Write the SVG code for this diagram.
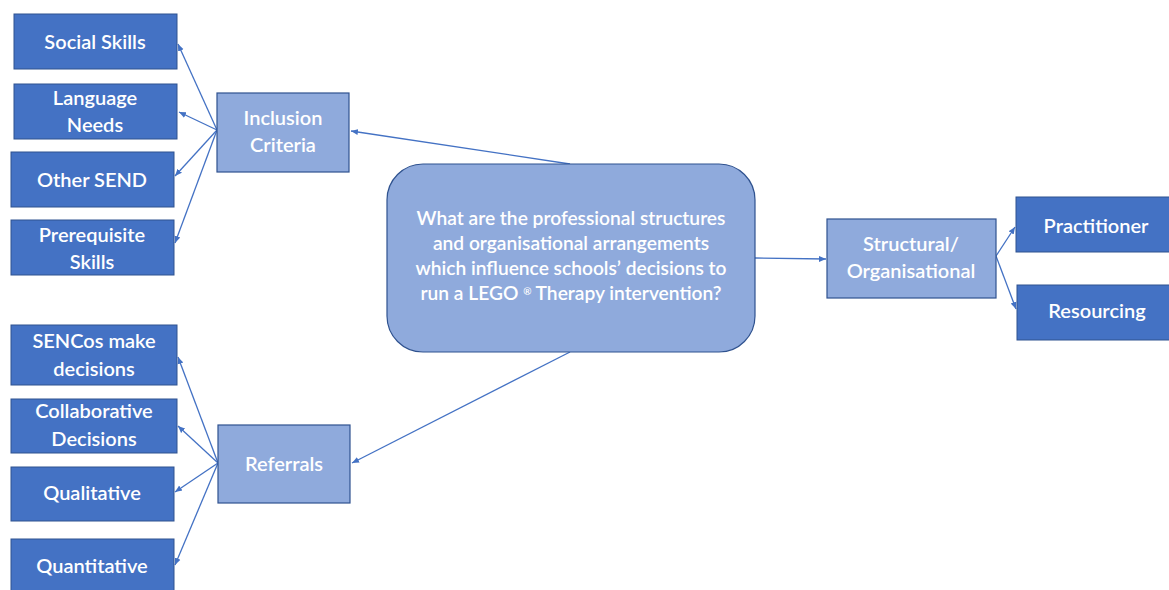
<svg xmlns="http://www.w3.org/2000/svg" width="1169" height="590" viewBox="0 0 1169 590">
  <style>
    .dark { fill: #4472C4; stroke: #2F528F; stroke-width: 1; }
    .light { fill: #8FAADC; stroke: #2F528F; stroke-width: 1.2; }
    .lbl { font-family: Lato, "Open Sans", "Liberation Sans", sans-serif; font-size: 20px; font-weight: 600; fill: #FFFFFF; text-anchor: middle; }
    .q { font-family: Lato, "Open Sans", "Liberation Sans", sans-serif; font-size: 19.2px; font-weight: 600; fill: #FFFFFF; text-anchor: middle; }
    .conn { stroke: #4472C4; stroke-width: 1.3; fill: none; marker-end: url(#arrow); }
  </style>
  <defs>
    <marker id="arrow" markerWidth="8" markerHeight="8" refX="7" refY="4" orient="auto" markerUnits="userSpaceOnUse">
      <path d="M0,1 L7,4 L0,7 Z" fill="#4472C4"/>
    </marker>
  </defs>
  <rect width="1169" height="590" fill="#FFFFFF"/>

  <g id="connectors">
    <line class="conn" x1="570" y1="164" x2="351" y2="131"/>
    <line class="conn" x1="570" y1="352" x2="352" y2="463"/>
    <line class="conn" x1="755" y1="258" x2="826" y2="259"/>
    <line class="conn" x1="996" y1="256" x2="1015" y2="227"/>
    <line class="conn" x1="996" y1="256" x2="1016" y2="309"/>
    <line class="conn" x1="217" y1="130" x2="178" y2="44"/>
    <line class="conn" x1="217" y1="130" x2="179" y2="112"/>
    <line class="conn" x1="217" y1="130" x2="175" y2="176"/>
    <line class="conn" x1="217" y1="130" x2="175" y2="243"/>
    <line class="conn" x1="218" y1="463" x2="178" y2="357"/>
    <line class="conn" x1="218" y1="463" x2="178" y2="426"/>
    <line class="conn" x1="218" y1="463" x2="175" y2="492"/>
    <line class="conn" x1="218" y1="463" x2="175" y2="565"/>
  </g>

  <g id="question">
    <rect class="light" x="387" y="164" width="368" height="188" rx="36" ry="36"/>
    <text class="q" x="571" y="225">What are the professional structures</text>
    <text class="q" x="571" y="250">and organisational arrangements</text>
    <text class="q" x="571" y="275">which influence schools’ decisions to</text>
    <text class="q" x="571" y="300">run a LEGO <tspan font-size="10" dy="-5">®</tspan><tspan dy="5"> Therapy intervention?</tspan></text>
  </g>

  <g id="inclusion-criteria">
    <rect class="light" x="217" y="93" width="132" height="79"/>
    <text class="lbl" x="283" y="125">Inclusion</text>
    <text class="lbl" x="283" y="152">Criteria</text>
  </g>
  <g id="social-skills">
    <rect class="dark" x="14" y="14" width="163" height="55"/>
    <text class="lbl" x="95" y="49">Social Skills</text>
  </g>
  <g id="language-needs">
    <rect class="dark" x="14" y="84" width="163" height="55"/>
    <text class="lbl" x="95" y="105">Language</text>
    <text class="lbl" x="95" y="132">Needs</text>
  </g>
  <g id="other-send">
    <rect class="dark" x="11" y="152" width="163" height="55"/>
    <text class="lbl" x="92" y="187">Other SEND</text>
  </g>
  <g id="prerequisite-skills">
    <rect class="dark" x="11" y="220" width="163" height="55"/>
    <text class="lbl" x="92" y="242">Prerequisite</text>
    <text class="lbl" x="92" y="269">Skills</text>
  </g>

  <g id="referrals">
    <rect class="light" x="218" y="425" width="132" height="78"/>
    <text class="lbl" x="284" y="471">Referrals</text>
  </g>
  <g id="sencos-make-decisions">
    <rect class="dark" x="11" y="325" width="166" height="60"/>
    <text class="lbl" x="94" y="348">SENCos make</text>
    <text class="lbl" x="94" y="376">decisions</text>
  </g>
  <g id="collaborative-decisions">
    <rect class="dark" x="11" y="399" width="166" height="54"/>
    <text class="lbl" x="94" y="418">Collaborative</text>
    <text class="lbl" x="94" y="446">Decisions</text>
  </g>
  <g id="qualitative">
    <rect class="dark" x="11" y="467" width="163" height="54"/>
    <text class="lbl" x="92" y="500">Qualitative</text>
  </g>
  <g id="quantitative">
    <rect class="dark" x="11" y="539" width="163" height="60"/>
    <text class="lbl" x="92" y="573">Quantitative</text>
  </g>

  <g id="structural-organisational">
    <rect class="light" x="827" y="219" width="169" height="79"/>
    <text class="lbl" x="911" y="251">Structural/</text>
    <text class="lbl" x="911" y="278">Organisational</text>
  </g>
  <g id="practitioner">
    <rect class="dark" x="1016" y="197" width="160" height="55"/>
    <text class="lbl" x="1096" y="233">Practitioner</text>
  </g>
  <g id="resourcing">
    <rect class="dark" x="1017" y="285" width="160" height="55"/>
    <text class="lbl" x="1097" y="318">Resourcing</text>
  </g>
</svg>
